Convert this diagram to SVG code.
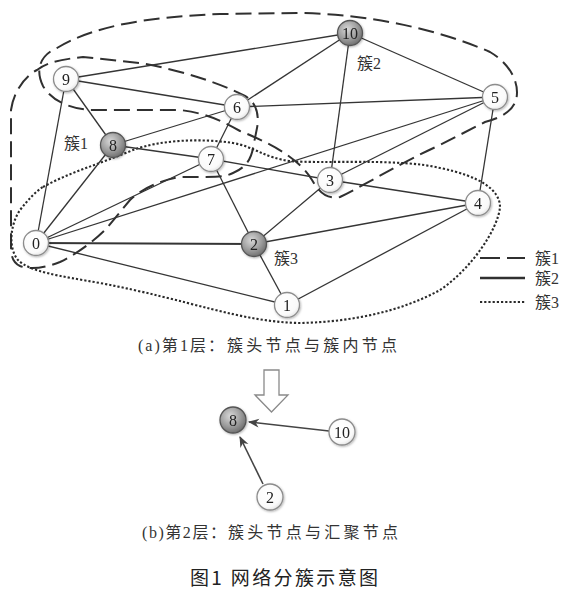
<svg xmlns="http://www.w3.org/2000/svg" width="566" height="590" viewBox="0 0 566 590">
<style>
.e{stroke:#353535;stroke-width:1.3;fill:none}
.e2{stroke:#353535;stroke-width:1.9;fill:none}
.dash{stroke:#303030;stroke-width:2;fill:none;stroke-dasharray:16 7}
.dot{stroke:#2a2a2a;stroke-width:2.1;fill:none;stroke-dasharray:2.2 2}
.nw{fill:url(#gw);stroke:#8c8c8c;stroke-width:1.3}
.ng{fill:url(#gg);stroke:#555;stroke-width:1.3}
.lab{font-family:"Liberation Serif","DejaVu Serif",serif;font-size:16px;fill:#222;text-anchor:middle}
.cj{font-family:"Liberation Serif","Noto Sans CJK SC",serif;fill:#333}
</style>
<defs>
<radialGradient id="gw" cx="0.4" cy="0.35" r="0.7"><stop offset="0" stop-color="#ffffff"/><stop offset="0.75" stop-color="#fafafa"/><stop offset="1" stop-color="#e2e2e2"/></radialGradient>
<radialGradient id="gg" cx="0.4" cy="0.35" r="0.7"><stop offset="0" stop-color="#d8d8d8"/><stop offset="0.6" stop-color="#9a9a9a"/><stop offset="1" stop-color="#6a6a6a"/></radialGradient>
<filter id="sh" x="-30%" y="-30%" width="160%" height="160%"><feDropShadow dx="0.8" dy="1" stdDeviation="1" flood-color="#000" flood-opacity="0.3"/></filter>
<marker id="ah" viewBox="0 0 10 10" refX="9" refY="5" markerWidth="7" markerHeight="7" orient="auto"><path d="M0,1 L10,5 L0,9 L3,5 Z" fill="#444"/></marker>
</defs>
<rect width="566" height="590" fill="#fff"/>

<g id="clusters">
<path class="dash" d="M43,86 C35,70 40,55 57,48 C95,25 150,17 220,14 L300,13 C370,14 440,30 490,52 C512,65 520,85 516,100 C512,112 500,118 485,122 L440,145 C400,163 365,185 340,197 C325,200 318,190 312,180 C300,160 275,145 240,131 C220,120 205,113 180,110 L90,110 C65,108 50,98 43,86 Z"/>
<path class="dash" d="M11,110 C13,95 22,78 37,70 C45,64 55,60 83,57 L140,63 C180,70 220,83 245,96 C258,103 259,118 257,128 L253,148 C251,160 245,168 233,173 C225,177 218,177 200,177 L180,177 C160,180 140,190 130,200 L107,228 C95,240 80,252 60,262 C45,268 30,270 20,266 C12,262 11,255 11,245 Z"/>
<path class="dot" d="M43,187 C70,172 100,164 133,150 C160,140 200,138 233,143 C255,147 265,158 290,161 C320,164 400,158 440,168 C480,176 500,190 500,207 C498,230 470,270 440,290 C400,312 350,322 300,323 C240,322 190,300 100,283 C60,276 30,272 18,260 C8,248 10,225 20,210 C28,200 35,192 43,187 Z"/>
</g>

<g id="connectors">
<line class="e" x1="66" y1="79" x2="350" y2="33"/>
<line class="e" x1="66" y1="79" x2="237" y2="107"/>
<line class="e" x1="66" y1="79" x2="113" y2="145"/>
<line class="e" x1="66" y1="79" x2="36" y2="243"/>
<line class="e" x1="350" y1="33" x2="237" y2="107"/>
<line class="e" x1="350" y1="33" x2="330" y2="180"/>
<line class="e" x1="350" y1="33" x2="495" y2="97"/>
<line class="e" x1="237" y1="107" x2="495" y2="97"/>
<line class="e" x1="237" y1="107" x2="113" y2="145"/>
<line class="e" x1="237" y1="107" x2="211" y2="159"/>
<line class="e" x1="113" y1="145" x2="211" y2="159"/>
<line class="e" x1="211" y1="159" x2="330" y2="180"/>
<line class="e" x1="113" y1="145" x2="36" y2="243"/>
<line class="e" x1="211" y1="159" x2="254" y2="244"/>
<line class="e" x1="211" y1="159" x2="36" y2="243"/>
<line class="e" x1="36" y1="243" x2="495" y2="97"/>
<line class="e2" x1="36" y1="243" x2="254" y2="244"/>
<line class="e" x1="36" y1="243" x2="287" y2="305"/>
<line class="e" x1="254" y1="244" x2="330" y2="180"/>
<line class="e" x1="254" y1="244" x2="478" y2="203"/>
<line class="e" x1="254" y1="244" x2="287" y2="305"/>
<line class="e" x1="330" y1="180" x2="495" y2="97"/>
<line class="e" x1="330" y1="180" x2="478" y2="203"/>
<line class="e" x1="478" y1="203" x2="495" y2="97"/>
<line class="e" x1="478" y1="203" x2="287" y2="305"/>
<line x1="329" y1="431" x2="249" y2="422" stroke="#444" stroke-width="1.6" marker-end="url(#ah)"/>
<line x1="263" y1="484" x2="240" y2="437" stroke="#444" stroke-width="1.6" marker-end="url(#ah)"/>
</g>

<g id="n0" filter="url(#sh)"><circle class="nw" cx="36" cy="243" r="12.5"/><text class="lab" x="36" y="248.5">0</text></g>
<g id="n1" filter="url(#sh)"><circle class="nw" cx="287" cy="305" r="12.5"/><text class="lab" x="287" y="310.5">1</text></g>
<g id="n2" filter="url(#sh)"><circle class="ng" cx="254" cy="244" r="12.5"/><text class="lab" x="254" y="249.5">2</text></g>
<g id="n3" filter="url(#sh)"><circle class="nw" cx="330" cy="180" r="12.5"/><text class="lab" x="330" y="185.5">3</text></g>
<g id="n4" filter="url(#sh)"><circle class="nw" cx="478" cy="203" r="12.5"/><text class="lab" x="478" y="208.5">4</text></g>
<g id="n5" filter="url(#sh)"><circle class="nw" cx="495" cy="97" r="12.5"/><text class="lab" x="495" y="102.5">5</text></g>
<g id="n6" filter="url(#sh)"><circle class="nw" cx="237" cy="107" r="12.5"/><text class="lab" x="237" y="112.5">6</text></g>
<g id="n7" filter="url(#sh)"><circle class="nw" cx="211" cy="159" r="12.5"/><text class="lab" x="211" y="164.5">7</text></g>
<g id="n8" filter="url(#sh)"><circle class="ng" cx="113" cy="145" r="12.5"/><text class="lab" x="113" y="150.5">8</text></g>
<g id="n9" filter="url(#sh)"><circle class="nw" cx="66" cy="79" r="12.5"/><text class="lab" x="66" y="84.5">9</text></g>
<g id="n10" filter="url(#sh)"><circle class="ng" cx="350" cy="33" r="12.5"/><text class="lab" x="350" y="38.5" textLength="16" lengthAdjust="spacingAndGlyphs">10</text></g>

<g id="clabels">
<text class="cj" x="64" y="149" font-size="16">簇1</text>
<text class="cj" x="357" y="69" font-size="16">簇2</text>
<text class="cj" x="274" y="264" font-size="16">簇3</text>
</g>

<g id="legend">
<line class="dash" x1="480" y1="258" x2="525" y2="258" style="stroke-dasharray:20 7"/>
<line stroke="#303030" stroke-width="2.4" x1="480" y1="278" x2="525" y2="278"/>
<line class="dot" x1="480" y1="302" x2="525" y2="302"/>
<text class="cj" x="535" y="264" font-size="16">簇1</text>
<text class="cj" x="535" y="284" font-size="16">簇2</text>
<text class="cj" x="535" y="308" font-size="16">簇3</text>
</g>

<g id="caption-a">
<text class="cj" x="138" y="351" font-size="16" textLength="86" lengthAdjust="spacing">(a)第1层：</text>
<text class="cj" x="227" y="351" font-size="16" textLength="170" lengthAdjust="spacing">簇头节点与簇内节点</text>
</g>

<g id="bigarrow"><path d="M264,370 L279,370 L279,395 L288,395 L271.5,412 L255,395 L264,395 Z" fill="#fff" stroke="#8a8a8a" stroke-width="1.3"/></g>

<g id="b8" filter="url(#sh)"><circle class="ng" cx="233" cy="420" r="13"/><text class="lab" x="233" y="425.5">8</text></g>
<g id="b10" filter="url(#sh)"><circle class="nw" cx="342" cy="432" r="13"/><text class="lab" x="342" y="437.5" textLength="16" lengthAdjust="spacingAndGlyphs">10</text></g>
<g id="b2" filter="url(#sh)"><circle class="nw" cx="270" cy="497" r="13"/><text class="lab" x="270" y="502.5">2</text></g>

<g id="caption-b">
<text class="cj" x="142" y="538" font-size="16" textLength="84" lengthAdjust="spacing">(b)第2层：</text>
<text class="cj" x="228" y="538" font-size="16" textLength="170" lengthAdjust="spacing">簇头节点与汇聚节点</text>
</g>
<text x="190" y="585" font-size="19" font-family="'Noto Sans CJK SC','Liberation Sans',sans-serif" fill="#222" textLength="188" lengthAdjust="spacing">图1 网络分簇示意图</text>
</svg>
